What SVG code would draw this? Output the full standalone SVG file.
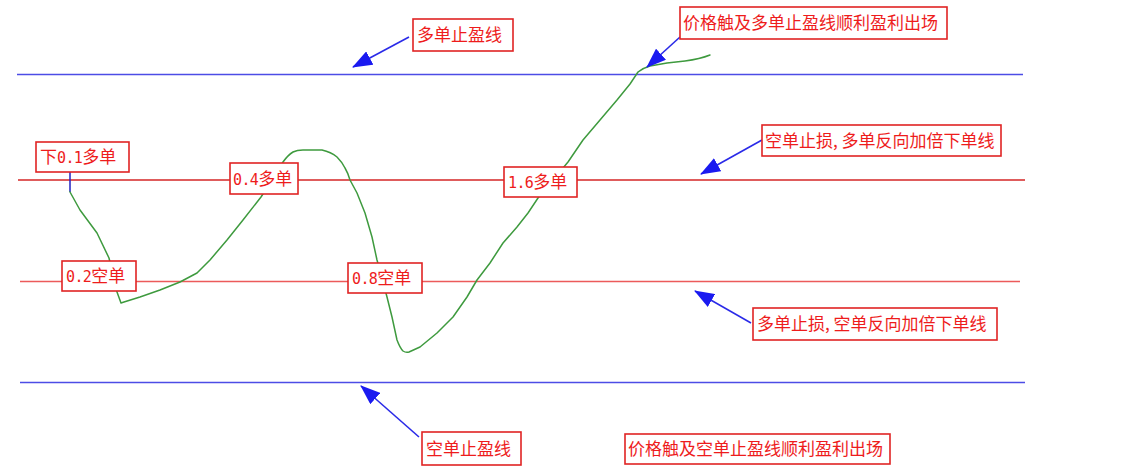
<svg xmlns="http://www.w3.org/2000/svg" width="1125" height="476" viewBox="0 0 1125 476">
  <style>
    .box { fill: #ffffff; stroke: #e02424; stroke-width: 1.6; }
    .lbl { font-family: "Noto Sans CJK SC", "Liberation Sans", sans-serif; font-size: 17px; fill: #ee1c1c; }
    .num { font-family: "DejaVu Sans Mono", "Liberation Mono", monospace; font-size: 15px; letter-spacing: -0.6px; }
    .blue { stroke: #4c4ce6; stroke-width: 1.6; fill: none; }
    .red { stroke: #d42626; stroke-width: 1.6; fill: none; }
    .red2 { stroke: #ec5a5a; stroke-width: 1.6; fill: none; }
    .arrow { stroke: #2a2ae8; stroke-width: 1.6; fill: none; marker-end: url(#ah); }
    .price { stroke: #3e9a3e; stroke-width: 1.5; fill: none; stroke-linejoin: round; stroke-linecap: round; }
  </style>
  <defs>
    <marker id="ah" viewBox="0 0 20 15" refX="19" refY="7.5" markerWidth="20" markerHeight="15" markerUnits="userSpaceOnUse" orient="auto">
      <path d="M0,0 L20,7.5 L0,15 Z" fill="#1a1af0"/>
    </marker>
  </defs>
  <rect width="1125" height="476" fill="#ffffff"/>

  <g id="levels">
    <line class="blue" x1="17" y1="74.5" x2="1023" y2="74.5"/>
    <line class="red" x1="18" y1="180" x2="1025" y2="180"/>
    <line class="red2" x1="20" y1="281.5" x2="1020" y2="281.5"/>
    <line class="blue" x1="20" y1="382.5" x2="1025" y2="382.5"/>
    <line x1="70" y1="172" x2="70" y2="192" stroke="#2020c0" stroke-width="1.5"/>
  </g>

  <g id="price-curve">
    <path class="price" d="M70,192 L80,210 L97,233 L109,258 L113,275 L117,292 L121,303 L124,302 L140,297 L160,290 L180,282 L197,273 L210,260 L227,240 L243,220 L261,197 L272,180 L283,162 Q288,155 293,152 Q297,150 303,150 L322,150 Q331,152 337,157 Q342,162 345,168 Q348,173 350,180 L357,193 L365,213 L372,237 L377,260 L382,278 L387,297 L392,317 L397,340 Q400,348 403,351 Q406,353 409,352 L420,347 L437,333 L453,317 L467,297 L477,280 L490,263 L503,243 L517,227 L528,213 L538,198 L553,180 L568,162 L583,140 L600,120 L617,100 L630,84 L638,72 Q643,68 650,66 L667,63 L685,61 Q700,59 710,55"/>
  </g>

  <g id="connectors">
    <line class="arrow" x1="409" y1="37" x2="353" y2="67"/>
    <line class="arrow" x1="680" y1="37" x2="647" y2="67"/>
    <line class="arrow" x1="762" y1="140" x2="701" y2="174"/>
    <line class="arrow" x1="751" y1="323" x2="695" y2="291"/>
    <line class="arrow" x1="419" y1="437" x2="361" y2="386"/>
  </g>

  <g id="long-tp">
    <rect class="box" x="413" y="19" width="100" height="32"/>
    <text class="lbl" x="417" y="41">多单止盈线</text>
  </g>
  <g id="long-tp-exit">
    <rect class="box" x="680" y="7" width="267" height="32"/>
    <text class="lbl" x="683" y="29">价格触及多单止盈线顺利盈利出场</text>
  </g>
  <g id="short-sl">
    <rect class="box" x="762" y="125" width="239" height="31"/>
    <text class="lbl" x="765" y="146.5">空单止损, 多单反向加倍下单线</text>
  </g>
  <g id="long-sl">
    <rect class="box" x="753" y="308" width="244" height="32"/>
    <text class="lbl" x="757" y="330">多单止损, 空单反向加倍下单线</text>
  </g>
  <g id="short-tp">
    <rect class="box" x="422" y="432" width="99" height="33"/>
    <text class="lbl" x="426" y="454.5">空单止盈线</text>
  </g>
  <g id="short-tp-exit">
    <rect class="box" x="625" y="434" width="265" height="30"/>
    <text class="lbl" x="628" y="455">价格触及空单止盈线顺利盈利出场</text>
  </g>

  <g id="order-01-long">
    <rect class="box" x="36" y="142" width="93" height="30"/>
    <text class="lbl" x="40" y="163">下<tspan class="num">0.1</tspan>多单</text>
  </g>
  <g id="order-04-long">
    <rect class="box" x="230" y="163" width="68" height="31"/>
    <text class="lbl" x="233" y="184.5"><tspan class="num">0.4</tspan>多单</text>
  </g>
  <g id="order-16-long">
    <rect class="box" x="504" y="167" width="73" height="30"/>
    <text class="lbl" x="508" y="188"><tspan class="num">1.6</tspan>多单</text>
  </g>
  <g id="order-02-short">
    <rect class="box" x="62" y="261" width="74" height="30"/>
    <text class="lbl" x="66" y="282"><tspan class="num">0.2</tspan>空单</text>
  </g>
  <g id="order-08-short">
    <rect class="box" x="348" y="263" width="74" height="30"/>
    <text class="lbl" x="352" y="284"><tspan class="num">0.8</tspan>空单</text>
  </g>
</svg>
